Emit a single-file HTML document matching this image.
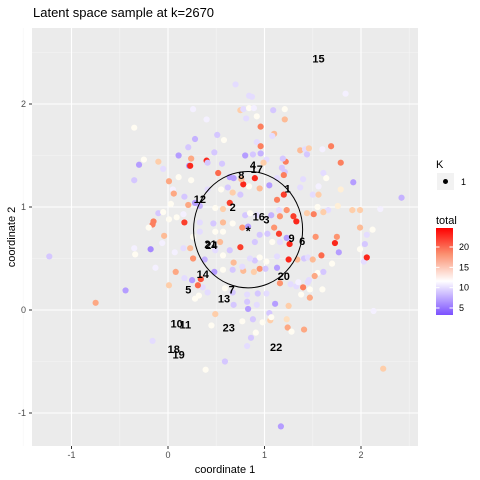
<!DOCTYPE html>
<html><head><meta charset="utf-8"><style>
body{margin:0;background:#fff;}
svg{display:block;font-family:"Liberation Sans",sans-serif;}
</style></head><body>
<svg id="chart" width="480" height="480">
<rect x="0" y="0" width="480" height="480" fill="#fff"/>
<text x="33" y="17" font-size="13" fill="#000">Latent space sample at k=2670</text>
<rect x="32" y="28" width="386" height="418" fill="#ebebeb"/>
<g id="grid"></g>
<g id="pts"></g>
<g id="labs"></g>
<g id="axes"></g>
<text x="225" y="473" font-size="11" text-anchor="middle" fill="#000">coordinate 1</text>
<text x="0" y="0" font-size="11" text-anchor="middle" fill="#000" transform="translate(15,237) rotate(-90)">coordinate 2</text>
<g>
<text x="436" y="168" font-size="11">K</text>
<rect x="437" y="173" width="17" height="17" fill="#f2f2f2"/>
<circle cx="445.5" cy="181.5" r="2.5" fill="#000"/>
<text x="461" y="185" font-size="9" fill="#000">1</text>
</g>
<g>
<text x="436" y="224" font-size="11">total</text>
<defs><linearGradient id="cb" x1="0" y1="1" x2="0" y2="0">
<stop offset="0" stop-color="#7b50ff"/><stop offset="0.39" stop-color="#ffffff"/><stop offset="0.7" stop-color="#fb9070"/><stop offset="1" stop-color="#ff0000"/>
</linearGradient></defs>
<rect x="436" y="228" width="17" height="87" fill="url(#cb)"/>
<g id="cbt"></g>
</g>
</svg>
<script>
const xVals=[0.26,0.40,-0.35,0.51,0.28,0.58,0.21,0.48,0.11,0.24,0.40,-0.25,-0.30,-0.10,0.22,-0.05,0.52,-0.35,0.01,0.11,0.24,0.05,0.06,0.17,0.21,0.03,-0.10,-0.05,-0.15,-0.16,-0.20,0.01,0.09,0.17,-0.04,-0.06,-0.35,-0.34,-0.18,0.07,-1.23,0.70,0.84,0.87,1.84,0.75,0.78,0.84,0.89,1.09,1.21,0.92,1.21,0.81,0.96,1.10,1.08,0.92,0.96,1.37,1.42,1.46,1.60,1.69,1.44,0.80,0.88,0.96,1.02,1.22,1.19,1.79,0.99,1.18,1.21,1.61,1.40,1.64,1.92,1.56,1.37,1.79,0.90,0.78,1.05,0.95,1.20,1.13,1.50,1.56,2.42,1.55,1.76,1.91,1.99,2.20,1.66,1.61,1.51,1.44,1.33,1.99,2.12,2.06,1.75,1.73,1.53,2.04,1.77,1.99,1.26,1.15,1.10,1.30,-0.13,0.08,0.01,-0.44,-0.75,0.17,0.25,0.34,0.48,0.28,0.32,0.36,0.41,0.31,0.49,0.45,-0.16,0.39,0.59,1.41,1.59,1.70,2.03,2.06,0.95,1.01,1.13,1.25,0.90,0.68,0.78,0.89,1.55,1.61,1.52,1.16,1.27,1.33,1.40,1.47,1.60,1.46,0.82,0.93,1.02,1.38,1.47,0.82,0.92,1.11,1.25,0.68,0.83,2.13,1.05,0.77,0.88,0.98,1.06,1.07,1.23,1.24,1.28,1.41,0.91,0.86,0.82,2.23,1.17,0.23,0.41,0.56,0.64,0.68,0.76,0.84,1.13,1.20,0.41,0.55,0.62,0.67,0.75,0.64,0.57,0.49,0.33,0.28,0.16,0.33,0.47,0.57,0.67,0.80,0.85,0.92,1.07,1.15,1.16,1.23,0.77,0.83,0.57,0.49,0.33,0.26,0.95,1.03,1.23,1.16,1.08,0.90,0.75,0.64,0.54,0.23,0.16,0.49,0.57,0.26,0.38,0.85,0.95,1.02,1.13,1.34,1.45,1.50,0.77,0.67,0.57,1.35,1.45,0.59,0.67];
const yVals=[1.95,1.85,1.77,1.70,1.66,1.65,1.58,1.53,1.50,1.47,1.45,1.46,1.41,1.44,1.40,1.37,1.33,1.26,1.25,1.29,1.26,1.17,1.13,1.10,1.02,1.03,0.94,0.95,0.86,0.83,0.80,0.88,0.90,0.85,0.72,0.65,0.60,0.54,0.59,0.56,0.52,2.19,2.08,2.07,2.10,1.94,1.95,1.96,1.96,1.94,1.95,1.88,1.85,1.86,1.78,1.71,1.69,1.63,1.59,1.55,1.56,1.57,1.56,1.59,1.51,1.50,1.51,1.52,1.46,1.44,1.47,1.43,1.43,1.38,1.34,1.33,1.27,1.28,1.24,1.20,1.19,1.17,1.28,1.22,1.21,1.18,1.12,1.07,1.12,1.12,1.09,1.00,1.01,0.97,0.97,0.98,0.97,0.95,0.93,0.94,0.86,0.80,0.78,0.73,0.71,0.65,0.71,0.64,0.56,0.59,0.64,0.74,0.80,0.91,0.41,0.37,0.24,0.19,0.07,0.31,0.29,0.30,0.37,0.11,0.14,0.22,0.17,0.24,-0.04,-0.15,-0.30,-0.58,-0.50,0.50,0.53,0.45,0.47,0.51,0.40,0.40,0.41,0.49,0.48,0.46,0.38,0.37,0.36,0.37,0.33,0.26,0.25,0.23,0.22,0.20,0.20,0.29,0.15,0.16,0.16,0.15,0.12,0.08,0.05,0.06,0.04,0.05,0.01,-0.01,-0.03,-0.11,-0.09,-0.12,-0.10,-0.07,-0.09,-0.17,-0.21,-0.19,-0.22,-0.27,-0.35,-0.57,-1.13,1.40,1.43,1.42,1.29,1.28,1.27,1.20,1.28,1.31,1.17,1.17,1.19,1.14,1.12,1.04,0.98,0.99,1.01,1.04,0.93,0.85,0.84,0.85,0.84,0.92,0.94,0.92,0.92,0.97,0.91,0.97,0.80,0.81,0.76,0.76,0.76,0.71,0.73,0.74,0.70,0.66,0.66,0.66,0.61,0.58,0.66,0.60,0.60,0.58,0.53,0.50,0.49,0.50,0.51,0.47,0.52,0.49,0.51,0.49,0.42,0.39,0.39,0.27,0.27,0.21,0.17];
const totalVals=[11,11,12,9,8,12,9,9,7,17,23,12,7,15,6,10,20,9,17,12,12,11,17,9,17,12,9,12,19,19,12,12,12,22,16,11,11,12,6,11,9,10,10,10,11,15,10,12,11,9,12,12,16,10,19,16,10,10,19,16,10,15,11,19,9,7,9,8,10,19,9,19,15,9,9,10,10,12,7,11,10,13,23,23,7,16,22,19,10,15,8,12,13,15,15,11,10,15,19,15,23,16,12,10,18,23,18,9,7,12,23,22,18,22,11,17,15,7,17,10,7,21,7,12,12,10,10,20,15,12,10,12,9,9,20,12,10,23,18,9,7,23,9,16,16,15,12,9,17,18,10,10,19,12,12,10,10,9,10,12,17,9,10,7,15,9,7,11,9,12,9,12,15,12,14,17,12,17,12,9,10,15,7,23,9,9,7,7,16,12,10,19,10,12,9,15,9,22,15,12,8,7,11,10,9,16,12,9,12,10,8,10,18,18,18,7,12,12,10,12,9,9,7,10,12,9,22,9,16,16,10,10,12,18,8,10,12,12,10,16,10,16,10,9,12,11,10,12,9];
const labelNames=["15","4","17","8","1","12","2","16","3","9","6","21","24","14","20","5","7","13","23","10","11","22","18","19"];
const labelX=[1.56,0.88,0.92,0.76,1.24,0.33,0.67,0.94,1.02,1.28,1.39,0.44,0.45,0.36,1.20,0.21,0.66,0.58,0.63,0.09,0.18,1.12,0.06,0.11];
const labelY=[2.44,1.41,1.37,1.31,1.18,1.08,1.00,0.91,0.88,0.70,0.67,0.64,0.63,0.35,0.33,0.20,0.20,0.11,-0.17,-0.13,-0.14,-0.36,-0.38,-0.43];
const xTicks=[-1,0,1,2];
const yTicks=[-1,0,1,2];
const cbTicks=[5,10,15,20];
const center=[0.83,0.78];
const radius=0.565;

const NS="http://www.w3.org/2000/svg";
const X0=32,X1=418,Y0=28,Y1=446;
const sx=v=>168+v*96.5;
const sy=v=>310-v*103;
const cby=v=>308-(v-5)*(61/15);
function mk(tag,attrs,parent){const e=document.createElementNS(NS,tag);for(const k in attrs)e.setAttribute(k,attrs[k]);parent.appendChild(e);return e;}
function lerp(a,b,t){return Math.round(a+(b-a)*t);}
function col(v){const mid=11.7;let c;
 if(v<mid){const t=Math.min(1,(mid-v)/(mid-3.3));c=[lerp(255,123,t),lerp(255,80,t),255];}
 else{const t=Math.min(1,(v-mid)/(24.7-mid));c=[lerp(255,250,t),lerp(255,0,Math.pow(t,1.2)),lerp(255,0,Math.pow(t,0.8))];}
 return "rgb("+c.join(",")+")";}
const grid=document.getElementById('grid');
[-1.5,-0.5,0.5,1.5,2.5].forEach(v=>{const l=mk('line',{x1:sx(v),x2:sx(v),y1:Y0,y2:Y1,stroke:'#f5f5f5','stroke-width':0.6},grid);

});
[-0.5,0.5,1.5,2.5].forEach(v=>{const l=mk('line',{x1:X0,x2:X1,y1:sy(v),y2:sy(v),stroke:'#f5f5f5','stroke-width':0.6},grid);

});
const axes=document.getElementById('axes');
xTicks.forEach(v=>{const l=mk('line',{x1:sx(v),x2:sx(v),y1:Y0,y2:Y1,stroke:'#fff','stroke-width':1.1},grid);


const t=mk('line',{x1:sx(v),x2:sx(v),y1:Y1,y2:Y1+3,stroke:'#333','stroke-width':1},axes);


const tx=mk('text',{x:sx(v),y:Y1+12,'font-size':9,fill:'#4d4d4d','text-anchor':'middle'},axes);tx.textContent=v;

});
yTicks.forEach(v=>{const l=mk('line',{x1:X0,x2:X1,y1:sy(v),y2:sy(v),stroke:'#fff','stroke-width':1.1},grid);


const t=mk('line',{x1:X0-3,x2:X0,y1:sy(v),y2:sy(v),stroke:'#333','stroke-width':1},axes);


const tx=mk('text',{x:X0-6,y:sy(v)+3,'font-size':9,fill:'#4d4d4d','text-anchor':'end'},axes);tx.textContent=v;

});
const pts=document.getElementById('pts');
for(let i=0;i<xVals.length;i++){const c=mk('circle',{cx:sx(xVals[i]),cy:sy(yVals[i]),r:3.1,fill:col(totalVals[i])},pts);

}
const labs=document.getElementById('labs');
const circ=mk('ellipse',{cx:sx(center[0]),cy:sy(center[1]),rx:radius*96.5,ry:radius*103,fill:'none',stroke:'#000','stroke-width':1},labs);


const star=mk('text',{x:sx(center[0]),y:sy(center[1])+6,'font-size':13,'font-weight':'bold','text-anchor':'middle',fill:'#000'},labs);star.textContent='*';


for(let i=0;i<labelNames.length;i++){const t=mk('text',{x:sx(labelX[i]),y:sy(labelY[i])+4,'font-size':11,'font-weight':'bold','text-anchor':'middle',fill:'#000'},labs);t.textContent=labelNames[i];

}
const cbt=document.getElementById('cbt');
cbTicks.forEach(v=>{const y=cby(v);
const a=mk('line',{x1:436,x2:439.5,y1:y,y2:y,stroke:'#fff','stroke-width':1},cbt);


const b=mk('line',{x1:449.5,x2:453,y1:y,y2:y,stroke:'#fff','stroke-width':1},cbt);


const t=mk('text',{x:459,y:y+3,'font-size':9,fill:'#000'},cbt);t.textContent=v;

});
</script>
</body></html>
